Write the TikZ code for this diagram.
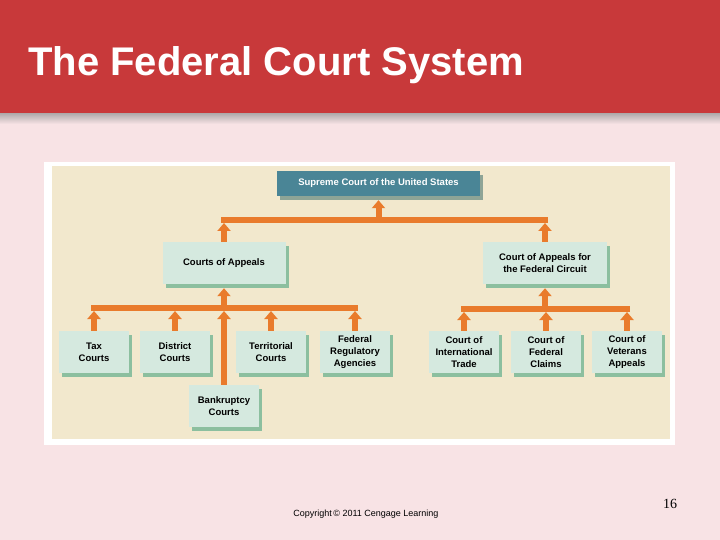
\documentclass[tikz,border=0pt]{standalone}
\usepackage{fontspec}
\setmainfont{Liberation Sans}
\newfontfamily\pagenumfont{Liberation Serif}
\usetikzlibrary{arrows.meta}
\usetikzlibrary{shadows}

\definecolor{titlered}{HTML}{C8393A}
\definecolor{bgpink}{HTML}{F8E3E5}
\definecolor{panelbeige}{HTML}{F2E8CD}
\definecolor{courtgreen}{HTML}{D5E9DF}
\definecolor{courtshadow}{HTML}{8CBF9F}
\definecolor{supremeteal}{HTML}{4A8596}
\definecolor{supremeshadow}{HTML}{8EA496}
\definecolor{arroworange}{HTML}{E97B2C}

\tikzset{
  court/.style={fill=courtgreen, text=black, font=\bfseries\fontsize{9.5}{12}\selectfont,
    align=center, inner sep=0pt, minimum width=70pt, minimum height=42pt,
    drop shadow={shadow xshift=3pt, shadow yshift=-4pt, fill=courtshadow, opacity=1}},
  supremebox/.style={fill=supremeteal, text=white, font=\bfseries\fontsize{9.5}{12}\selectfont,
    inner sep=0pt, minimum width=203pt, minimum height=25pt,
    drop shadow={shadow xshift=3pt, shadow yshift=-4pt, fill=supremeshadow, opacity=1}},
  bus/.style={draw=arroworange, line width=6pt},
  uparrow/.style={draw=arroworange, line width=6pt, -{Triangle[width=13pt,length=8pt]}},
}

\begin{document}
\begin{tikzpicture}[x=1pt,y=-1pt]
  \useasboundingbox (0,0) rectangle (720,540);

  % fond et bandeau du titre
  \fill[bgpink] (0,0) rectangle (720,540);
  \shade[top color=black!40, bottom color=bgpink] (0,110) rectangle (720,124);
  \fill[titlered] (0,0) rectangle (720,113);
  \node[anchor=base west, text=white, font=\bfseries\fontsize{40}{48}\selectfont, inner sep=0pt]
    (title) at (28,76) {The Federal Court System};

  % panneau
  \fill[white] (44,162) rectangle (675,445);
  \fill[panelbeige] (52,166) rectangle (670,439);

  % les cours
  \node[supremebox] (supreme) at (378.5,183.5) {Supreme Court of the United States};
  \node[court, minimum width=123pt] (appeals) at (224,263) {Courts of Appeals};
  \node[court, minimum width=124pt] (fedcircuit) at (545,263) {Court of Appeals for\\the Federal Circuit};

  \node[court] (tax) at (94,352) {Tax\\Courts};
  \node[court] (district) at (175,352) {District\\Courts};
  \node[court] (territorial) at (271,352) {Territorial\\Courts};
  \node[court] (fedreg) at (355,352) {Federal\\Regulatory\\Agencies};
  \node[court] (bankruptcy) at (224,406) {Bankruptcy\\Courts};

  \node[court] (intltrade) at (464,352) {Court of\\International\\Trade};
  \node[court] (fedclaims) at (546,352) {Court of\\Federal\\Claims};
  \node[court] (veterans) at (627,352) {Court of\\Veterans\\Appeals};

  % barres horizontales
  \coordinate (topbus) at (0,220);
  \coordinate (leftbus) at (0,308);
  \coordinate (rightbus) at (0,309);

  \draw[bus] ([xshift=-3pt]appeals.north |- topbus) -- ([xshift=3pt]fedcircuit.north |- topbus);
  \draw[bus] ([xshift=-3pt]tax.north |- leftbus) -- ([xshift=3pt]fedreg.north |- leftbus);
  \draw[bus] ([xshift=-3pt]intltrade.north |- rightbus) -- ([xshift=3pt]veterans.north |- rightbus);

  % flèches vers le haut
  \draw[uparrow] (supreme.south |- topbus) -- ([yshift=-4pt]supreme.south);
  \draw[uparrow] (appeals.north) -- ([yshift=-3pt]appeals.north |- topbus);
  \draw[uparrow] (fedcircuit.north) -- ([yshift=-3pt]fedcircuit.north |- topbus);

  \draw[uparrow] (appeals.south |- leftbus) -- ([yshift=-4pt]appeals.south);
  \draw[uparrow] (tax.north) -- ([yshift=-3pt]tax.north |- leftbus);
  \draw[uparrow] (district.north) -- ([yshift=-3pt]district.north |- leftbus);
  \draw[uparrow] (territorial.north) -- ([yshift=-3pt]territorial.north |- leftbus);
  \draw[uparrow] (fedreg.north) -- ([yshift=-3pt]fedreg.north |- leftbus);
  \draw[uparrow] (bankruptcy.north) -- ([yshift=-3pt]bankruptcy.north |- leftbus);

  \draw[uparrow] (fedcircuit.south |- rightbus) -- ([yshift=-4pt]fedcircuit.south);
  \draw[uparrow] (intltrade.north) -- ([yshift=-3pt]intltrade.north |- rightbus);
  \draw[uparrow] (fedclaims.north) -- ([yshift=-3pt]fedclaims.north |- rightbus);
  \draw[uparrow] (veterans.north) -- ([yshift=-3pt]veterans.north |- rightbus);

  % pied de page
  \node[font=\fontsize{9}{11}\selectfont] (copyright) at (366,514) {Copyright\,© 2011 Cengage Learning};
  \node[font=\pagenumfont\fontsize{14}{16}\selectfont] (pagenum) at (670,504) {16};
\end{tikzpicture}
\end{document}
